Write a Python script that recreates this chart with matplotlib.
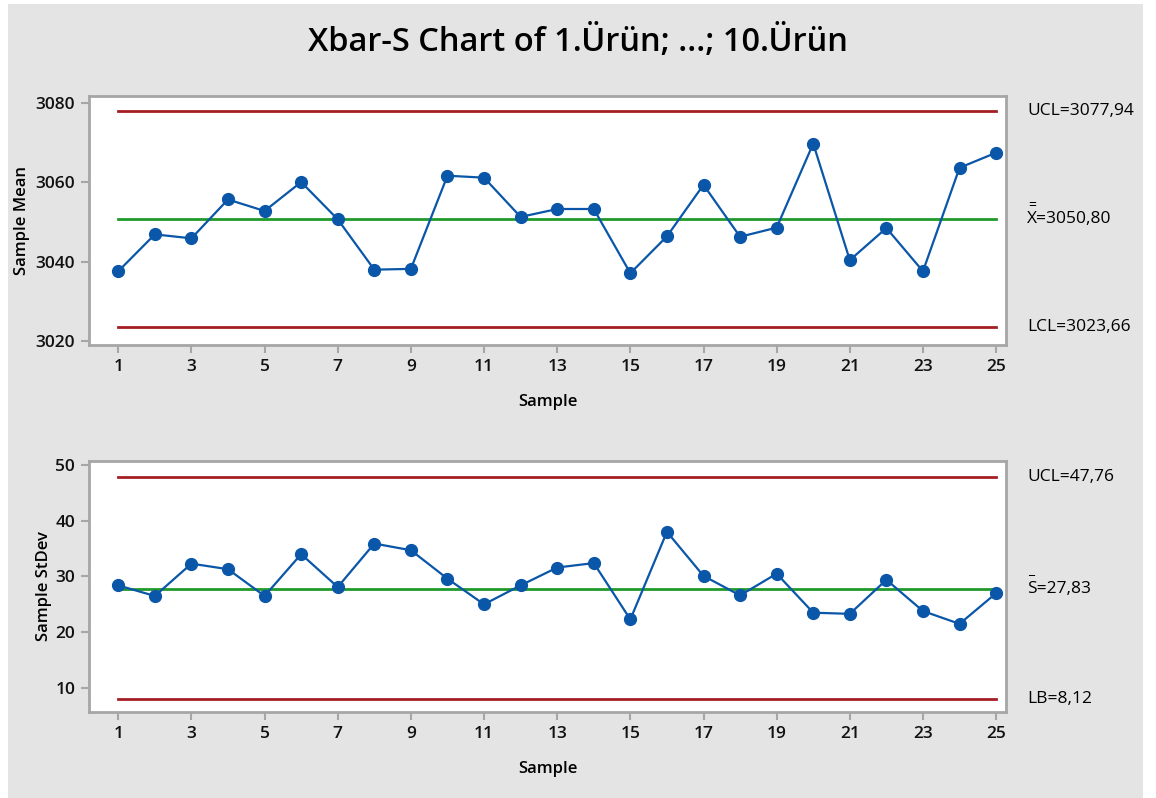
import matplotlib
matplotlib.use('Agg')
import matplotlib.pyplot as plt
from matplotlib.patches import Rectangle
import numpy as np

### data
samples = np.arange(1, 26)
sample_mean = [3037.6, 3046.9, 3045.9, 3055.7, 3052.8, 3060.1, 3050.7, 3038.0, 3038.2, 3061.7,
               3061.2, 3051.3, 3053.3, 3053.3, 3037.1, 3046.4, 3059.4, 3046.3, 3048.6, 3069.8,
               3040.4, 3048.5, 3037.6, 3063.7, 3067.5]
sample_sd = [28.4, 26.5, 32.3, 31.3, 26.5, 34.0, 28.1, 35.9, 34.7, 29.6,
             25.0, 28.4, 31.6, 32.4, 22.3, 38.0, 30.1, 26.6, 30.5, 23.5,
             23.3, 29.4, 23.8, 21.5, 27.0]

xbar_limits = {'UCL': 3077.94, 'center': 3050.80, 'LCL': 3023.66}
s_limits = {'UCL': 47.76, 'center': 27.83, 'LB': 8.12}
xticks = list(range(1, 26, 2))

title = 'Xbar-S Chart of 1.Ürün; ...; 10.Ürün'

### style
plt.rcParams['font.family'] = ['Open Sans', 'DejaVu Sans']
bg = '#e4e4e4'
red = '#a31f24'
green = '#1f9a2a'
blue = '#0a56a8'
spine_col = '#a6a6a6'

W, H = 1156, 798
fig = plt.figure(figsize=(W / 100, H / 100), dpi=100, facecolor='white')
fig.patches.append(Rectangle((8 / W, 0), (1143 - 8) / W, (H - 4) / H,
                             transform=fig.transFigure, facecolor=bg, edgecolor='none', zorder=-10))


def px_axes(left, top, right, bottom):
    return fig.add_axes([left / W, 1 - bottom / H, (right - left) / W, (bottom - top) / H])


def style_axes(ax):
    ax.set_facecolor('white')
    for s in ax.spines.values():
        s.set_color(spine_col)
        s.set_linewidth(2)
    ax.tick_params(axis='both', color=spine_col, width=1.5, length=6, labelsize=12.5,
                   labelcolor='#111111', pad=4)
    for lab in ax.get_xticklabels() + ax.get_yticklabels():
        lab.set_fontweight('semibold')
    ax.set_xticks(xticks)
    ax.set_xlim(0.2, 25.27)


def draw_chart(ax, values, ucl, center, lcl):
    x0, x1 = samples[0], samples[-1]
    ax.plot([x0, x1], [ucl, ucl], color=red, lw=2, zorder=2)
    ax.plot([x0, x1], [lcl, lcl], color=red, lw=2, zorder=2)
    ax.plot([x0, x1], [center, center], color=green, lw=2, zorder=2)
    ax.plot(samples, values, color=blue, lw=1.6, marker='o', markersize=8.5,
            markerfacecolor=blue, markeredgecolor=blue, zorder=3)


### top: sample means
ax1 = px_axes(89, 96, 1006, 345)
draw_chart(ax1, sample_mean, xbar_limits['UCL'], xbar_limits['center'], xbar_limits['LCL'])
ax1.set_ylim(3019.0, 3081.8)
ax1.set_yticks([3020, 3040, 3060, 3080])
style_axes(ax1)
ax1.set_ylabel('Sample Mean', fontsize=12, fontweight='semibold')
ax1.yaxis.set_label_coords(-0.064, 0.5)
ax1.set_xlabel('Sample', fontsize=12, fontweight='semibold', labelpad=14)

tr1 = ax1.get_yaxis_transform()
lx = 1.023
ax1.text(lx, xbar_limits['UCL'], 'UCL=3077,94', transform=tr1, va='center', ha='left', fontsize=12.5)
ax1.text(lx, xbar_limits['center'], 'X=3050,80', transform=tr1, va='center', ha='left', fontsize=12.5)
ax1.text(lx + 0.001, xbar_limits['center'] + 3.4, '=', transform=tr1, va='center', ha='left', fontsize=10)
ax1.text(lx, xbar_limits['LCL'], 'LCL=3023,66', transform=tr1, va='center', ha='left', fontsize=12.5)

### bottom: sample standard deviations
ax2 = px_axes(89, 461, 1006, 712)
draw_chart(ax2, sample_sd, s_limits['UCL'], s_limits['center'], s_limits['LB'])
ax2.set_ylim(5.7, 50.7)
ax2.set_yticks([10, 20, 30, 40, 50])
style_axes(ax2)
ax2.set_ylabel('Sample StDev', fontsize=12, fontweight='semibold')
ax2.yaxis.set_label_coords(-0.040, 0.5)
ax2.set_xlabel('Sample', fontsize=12, fontweight='semibold', labelpad=14)

tr2 = ax2.get_yaxis_transform()
ax2.text(lx, s_limits['UCL'], 'UCL=47,76', transform=tr2, va='center', ha='left', fontsize=12.5)
ax2.text(lx, s_limits['center'], 'S=27,83', transform=tr2, va='center', ha='left', fontsize=12.5)
ax2.text(lx + 0.001, s_limits['center'] + 1.9, '_', transform=tr2, va='bottom', ha='left', fontsize=10)
ax2.text(lx, s_limits['LB'], 'LB=8,12', transform=tr2, va='center', ha='left', fontsize=12.5)

fig.text(578 / W, 1 - 42 / H, title, ha='center', va='center', fontsize=23.5, fontweight='semibold')

fig.savefig('out.png', dpi=100, facecolor=fig.get_facecolor())
